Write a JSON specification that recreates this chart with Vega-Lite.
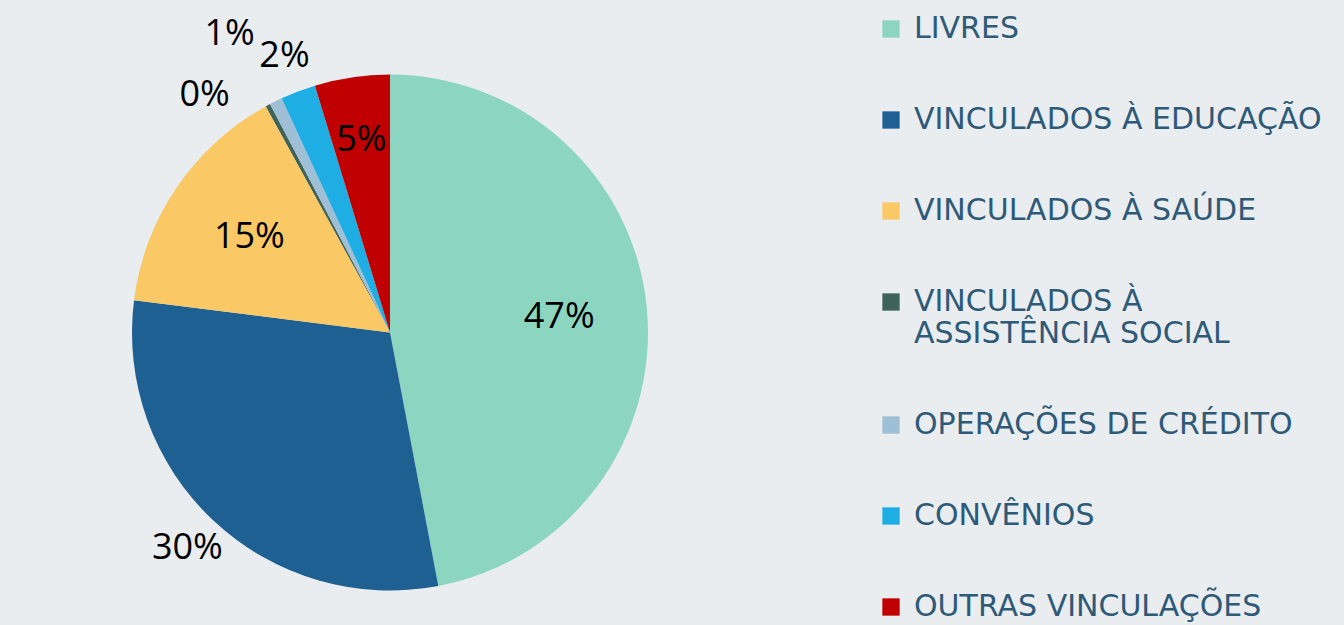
{
  "$schema": "https://vega.github.io/schema/vega-lite/v6.json",
  "width": 780,
  "height": 585,
  "autosize": {"type": "none"},
  "padding": {"left": 0, "top": 40, "right": 564, "bottom": 0},
  "background": "#E9EDF0",
  "config": {"view": {"stroke": null}},
  "data": {"values": [
    {"cat": "LIVRES", "value": 47, "pct": "47%", "order": 1},
    {"cat": "VINCULADOS À ASSISTÊNCIA  SOCIAL", "value": 0.3, "pct": "0%", "order": 4},
    {"cat": "VINCULADOS À EDUCAÇÃO", "value": 30, "pct": "30%", "order": 2},
    {"cat": "VINCULADOS À SAÚDE", "value": 15, "pct": "15%", "order": 3},
    {"cat": "OPERAÇÕES DE CRÉDITO", "value": 0.8, "pct": "1%", "order": 5},
    {"cat": "CONVÊNIOS", "value": 2.2, "pct": "2%", "order": 6},
    {"cat": "OUTRAS VINCULAÇÕES", "value": 4.7, "pct": "5%", "order": 7}
  ]},
  "encoding": {
    "theta": {"field": "value", "type": "quantitative", "stack": true},
    "order": {"field": "order", "type": "quantitative"}
  },
  "layer": [
    {
      "mark": {"type": "arc", "outerRadius": 258, "stroke": null},
      "encoding": {
        "color": {
          "field": "cat",
          "type": "nominal",
          "scale": {
            "domain": ["LIVRES", "VINCULADOS À EDUCAÇÃO", "VINCULADOS À SAÚDE", "VINCULADOS À ASSISTÊNCIA  SOCIAL", "OPERAÇÕES DE CRÉDITO", "CONVÊNIOS", "OUTRAS VINCULAÇÕES"],
            "range": ["#8CD5C0", "#1F6093", "#FAC864", "#3E6359", "#9EBFD6", "#1EAEE3", "#C00000"]
          },
          "legend": {
            "title": null,
            "orient": "none",
            "legendX": 876,
            "legendY": -26,
            "symbolType": "square",
            "symbolSize": 300,
            "symbolStrokeWidth": 0,
            "labelFont": "DejaVu Sans",
            "labelFontSize": 30,
            "labelColor": "#2E5A78",
            "labelOffset": 8,
            "rowPadding": 61,
            "labelLimit": 600,
            "labelExpr": "datum.label == 'VINCULADOS À ASSISTÊNCIA  SOCIAL' ? ['VINCULADOS À', 'ASSISTÊNCIA  SOCIAL'] : datum.label"
          }
        }
      }
    },
    {
      "mark": {"type": "text", "radius": 170, "font": "Open Sans", "fontSize": 36, "color": "#000000"},
      "encoding": {
        "text": {"condition": {"test": "datum.order == 1 || datum.order == 3", "field": "pct"}, "value": ""}
      }
    },
    {
      "mark": {"type": "text", "radius": 195, "font": "Open Sans", "fontSize": 36, "color": "#000000"},
      "encoding": {
        "text": {"condition": {"test": "datum.order == 7", "field": "pct"}, "value": ""}
      }
    },
    {
      "mark": {"type": "text", "radius": 296, "font": "Open Sans", "fontSize": 36, "color": "#000000"},
      "encoding": {
        "text": {"condition": {"test": "datum.order == 2 || datum.order == 6", "field": "pct"}, "value": ""}
      }
    },
    {
      "mark": {"type": "text", "radius": 286, "dx": -50, "dy": 14, "font": "Open Sans", "fontSize": 36, "color": "#000000"},
      "encoding": {
        "text": {"condition": {"test": "datum.order == 4", "field": "pct"}, "value": ""}
      }
    },
    {
      "mark": {"type": "text", "radius": 290, "dx": -32, "dy": -38, "font": "Open Sans", "fontSize": 36, "color": "#000000"},
      "encoding": {
        "text": {"condition": {"test": "datum.order == 5", "field": "pct"}, "value": ""}
      }
    }
  ]
}
